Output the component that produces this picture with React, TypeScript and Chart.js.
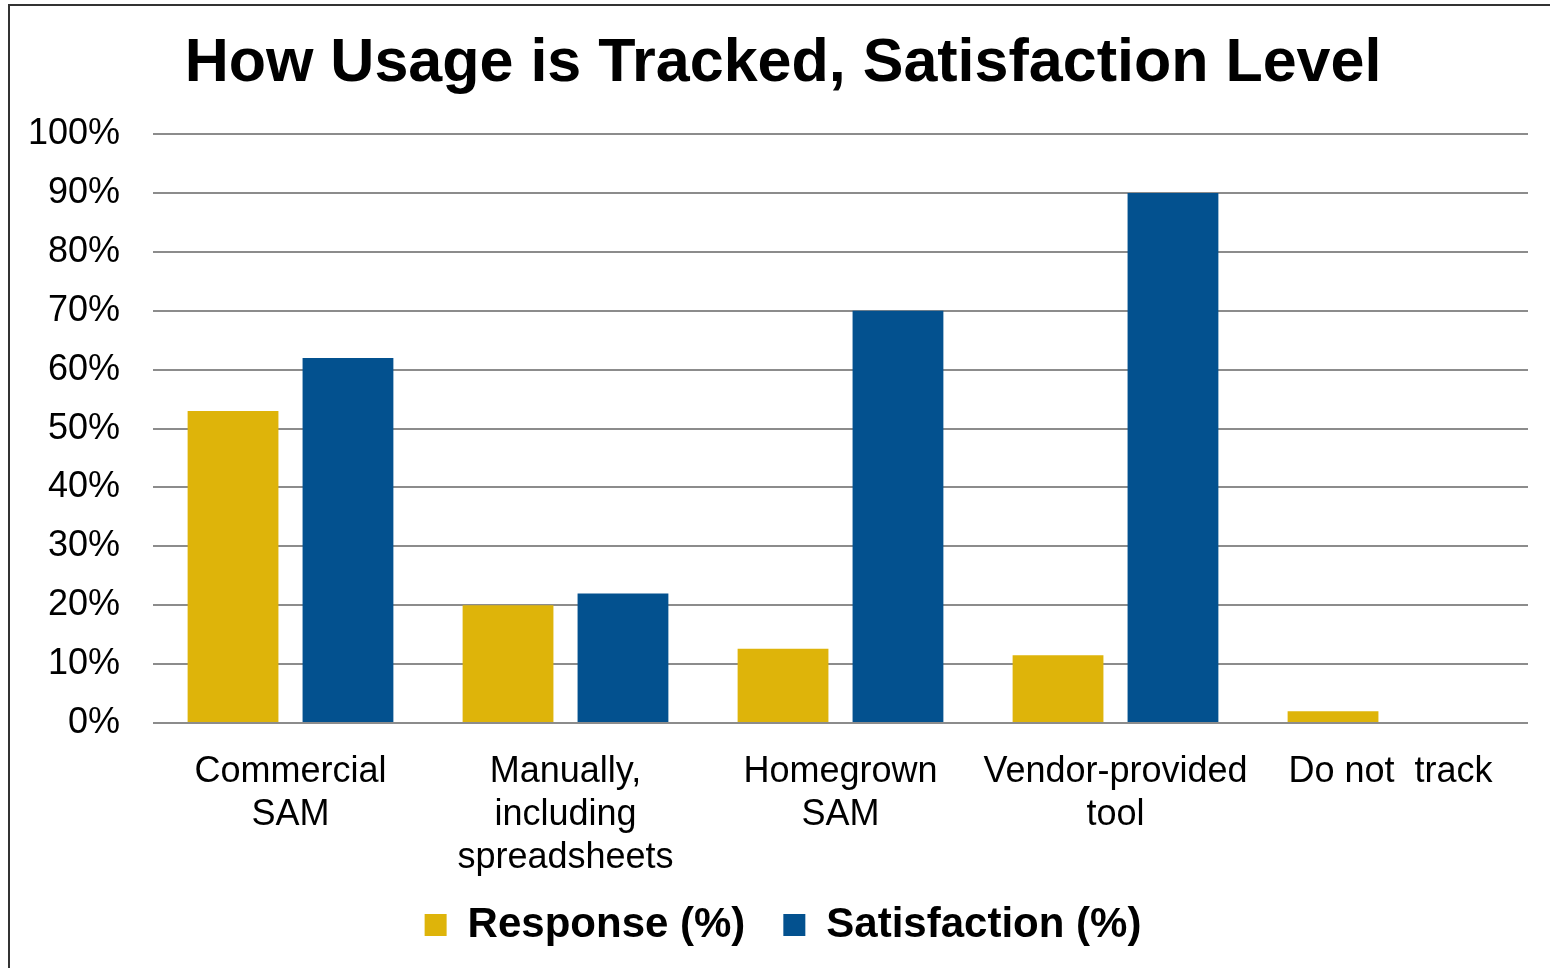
import React, { useEffect, useRef } from "react";
import { Chart, registerables } from "chart.js";

Chart.register(...registerables);

const titleText = "How Usage is Tracked, Satisfaction Level";
const categories: string[][] = [
  ["Commercial", "SAM"],
  ["Manually,", "including", "spreadsheets"],
  ["Homegrown", "SAM"],
  ["Vendor-provided", "tool"],
  ["Do not  track"],
];
const seriesNames = ["Response (%)", "Satisfaction (%)"];
const responseValues = [53, 20, 12.6, 11.5, 2];
const satisfactionValues = [62, 22, 70, 90, 0];
const yMin = 0;
const yMax = 100;
const yStep = 10;

const FONT = "Arial, 'Liberation Sans', sans-serif";
const YELLOW = "#DEB40A";
const BLUE = "#03518F";

export default function App() {
  const canvasRef = useRef<HTMLCanvasElement | null>(null);

  useEffect(() => {
    const canvas = canvasRef.current;
    if (!canvas) return;
    const chart = new Chart(canvas, {
      type: "bar",
      data: {
        labels: categories,
        datasets: [
          {
            label: seriesNames[0],
            data: responseValues,
            backgroundColor: YELLOW,
            borderWidth: 0,
            categoryPercentage: 0.836,
            barPercentage: 0.79,
          },
          {
            label: seriesNames[1],
            data: satisfactionValues,
            backgroundColor: BLUE,
            borderWidth: 0,
            categoryPercentage: 0.836,
            barPercentage: 0.79,
          },
        ],
      },
      options: {
        responsive: false,
        animation: false,
        maintainAspectRatio: false,
        layout: { padding: { left: 38, right: 22, top: 0, bottom: 12 } },
        plugins: {
          title: {
            display: true,
            text: titleText,
            color: "#000",
            font: { family: FONT, size: 61, weight: "bold", lineHeight: 1.2 },
            padding: { top: 28, bottom: 33 },
          },
          legend: {
            display: true,
            position: "bottom",
            labels: {
              color: "#000",
              font: { family: FONT, size: 42, weight: "bold" },
              boxWidth: 22,
              boxHeight: 22,
              padding: 38,
            },
          },
          tooltip: { enabled: false },
        },
        scales: {
          x: {
            grid: { display: false, drawTicks: false },
            border: { display: false },
            ticks: {
              color: "#000",
              font: { family: FONT, size: 36, lineHeight: 1.2 },
              padding: 27,
              autoSkip: false,
              maxRotation: 0,
              minRotation: 0,
            },
            afterFit: (scale: any) => {
              scale.height = 143;
              scale._computeLabelArea = () => undefined;
            },
          },
          y: {
            min: yMin,
            max: yMax,
            grid: { color: "#8c8c8c", lineWidth: 2, drawTicks: false },
            border: { display: false },
            ticks: {
              stepSize: yStep,
              color: "#000",
              font: { family: FONT, size: 36 },
              padding: 33,
              callback: (v: any) => `${v}%`,
            },
            afterFit: (scale: any) => {
              scale.width = 115;
              scale._computeLabelArea = () => undefined;
            },
          },
        },
      },
    });
    return () => chart.destroy();
  }, []);

  return (
    <div style={{ position: "fixed", left: 0, top: 0, width: 1550, height: 968, background: "#fff", overflow: "hidden" }}>
      <div
        style={{
          position: "absolute",
          left: 8,
          top: 4,
          width: 1600,
          height: 1000,
          borderLeft: "2px solid #333",
          borderTop: "2px solid #333",
        }}
      />
      <canvas
        ref={canvasRef}
        width={1550}
        height={968}
        style={{ position: "absolute", left: 0, top: 0, width: 1550, height: 968 }}
      />
    </div>
  );
}
